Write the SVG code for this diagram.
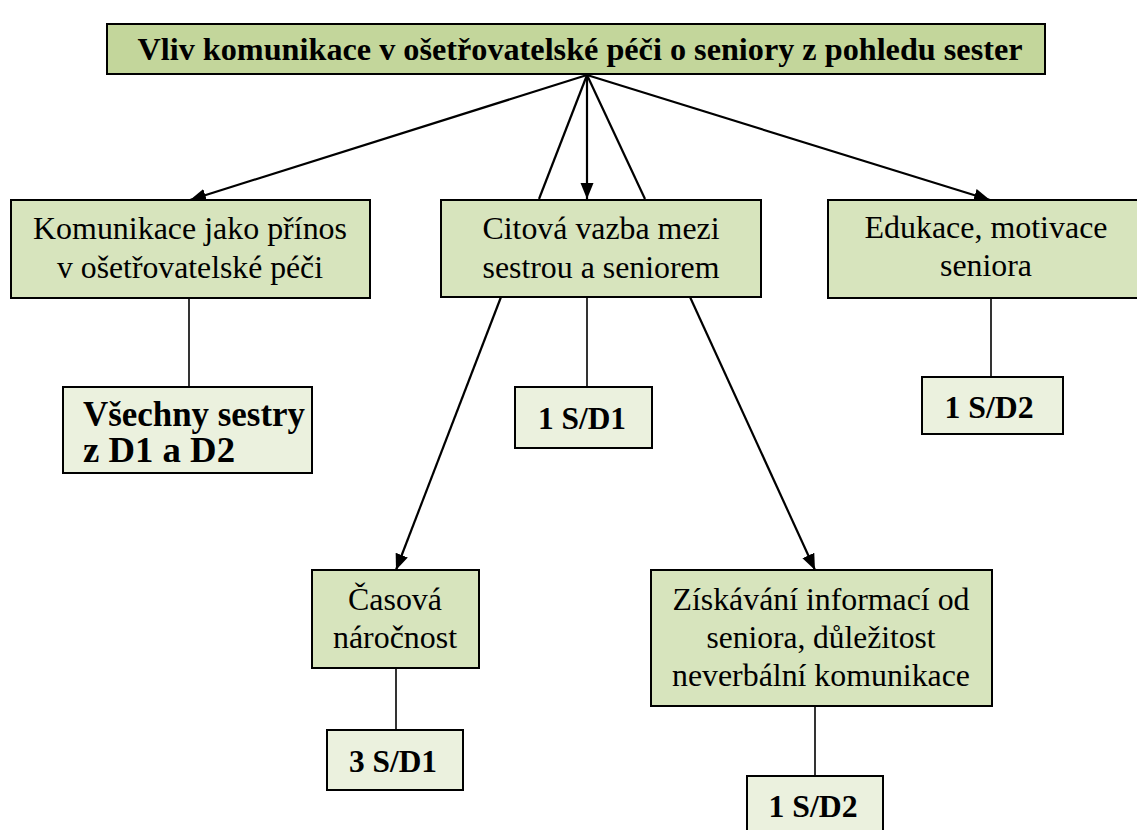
<svg xmlns="http://www.w3.org/2000/svg" width="1137" height="830" viewBox="0 0 1137 830">
<defs>
<marker id="arr" markerUnits="userSpaceOnUse" markerWidth="16" markerHeight="16" viewBox="0 0 16 16" refX="16" refY="8" orient="auto">
<path d="M0,1.5 L16,8 L0,14.5 Z" fill="#000"/>
</marker>
<style>
.top{fill:#c3d69b;stroke:#000;stroke-width:2}
.mid{fill:#d7e4bd;stroke:#000;stroke-width:2}
.leaf{fill:#ebf1de;stroke:#000;stroke-width:2}
.t{font-family:"Liberation Serif","Times New Roman",Tinos,Times,serif;font-size:32px;fill:#000;text-anchor:middle}
.b{font-family:"Liberation Serif","Times New Roman",Tinos,Times,serif;font-size:31px;font-weight:bold;fill:#000;text-anchor:middle}
.ar{stroke:#000;stroke-width:2.2;fill:none;marker-end:url(#arr)}
.ln{stroke:#000;stroke-width:2.2;fill:none}
.cn{stroke:#000;stroke-width:1.6;fill:none}
</style>
</defs>
<rect width="1137" height="830" fill="#fff"/>
<g id="connectors">
<line class="ar" x1="587" y1="75" x2="190" y2="200"/>
<line class="ar" x1="587" y1="75" x2="587" y2="199"/>
<line class="ar" x1="587" y1="75" x2="990" y2="200"/>
<line class="ln" x1="587" y1="75" x2="539" y2="199"/>
<line class="ln" x1="587" y1="75" x2="645" y2="199"/>
<line class="ar" x1="501" y1="297" x2="396" y2="570"/>
<line class="ar" x1="690" y1="297" x2="815" y2="570"/>
<line class="cn" x1="189" y1="298" x2="189" y2="387"/>
<line class="cn" x1="587" y1="297" x2="587" y2="387"/>
<line class="cn" x1="991" y1="298" x2="991" y2="377"/>
<line class="cn" x1="396" y1="668" x2="396" y2="730"/>
<line class="cn" x1="815" y1="706" x2="815" y2="776"/>
</g>
<g id="root">
<rect class="top" x="107" y="24" width="938" height="50"/>
<text class="b" x="580" y="60" style="font-size:32px" textLength="885" lengthAdjust="spacingAndGlyphs">Vliv komunikace v ošetřovatelské péči o seniory z pohledu sester</text>
</g>
<g id="n-prinos">
<rect class="mid" x="11" y="200" width="359" height="98"/>
<text class="t" x="190" y="239" textLength="314" lengthAdjust="spacingAndGlyphs">Komunikace jako přínos</text>
<text class="t" x="190" y="278" textLength="266" lengthAdjust="spacingAndGlyphs">v ošetřovatelské péči</text>
</g>
<g id="n-vazba">
<rect class="mid" x="441" y="200" width="320" height="97"/>
<text class="t" x="601" y="239" textLength="237" lengthAdjust="spacingAndGlyphs">Citová vazba mezi</text>
<text class="t" x="601" y="278" textLength="237" lengthAdjust="spacingAndGlyphs">sestrou a seniorem</text>
</g>
<g id="n-edukace">
<rect class="mid" x="828" y="200" width="316" height="98"/>
<text class="t" x="986" y="238" textLength="243" lengthAdjust="spacingAndGlyphs">Edukace, motivace</text>
<text class="t" x="986" y="276" textLength="92" lengthAdjust="spacingAndGlyphs">seniora</text>
</g>
<g id="n-vsechny">
<rect class="leaf" x="63" y="387" width="249" height="86"/>
<text class="b" x="83" y="426" style="text-anchor:start;font-size:35px" textLength="222" lengthAdjust="spacingAndGlyphs">Všechny sestry</text>
<text class="b" x="83" y="462" style="text-anchor:start;font-size:35px" textLength="152" lengthAdjust="spacingAndGlyphs">z D1 a D2</text>
</g>
<g id="n-s1d1">
<rect class="leaf" x="515" y="387" width="137" height="61"/>
<text class="b" x="582" y="429" textLength="88" lengthAdjust="spacingAndGlyphs">1 S/D1</text>
</g>
<g id="n-s1d2a">
<rect class="leaf" x="922" y="377" width="141" height="57"/>
<text class="b" x="989" y="418" textLength="89" lengthAdjust="spacingAndGlyphs">1 S/D2</text>
</g>
<g id="n-casova">
<rect class="mid" x="312" y="570" width="167" height="98"/>
<text class="t" x="395" y="610" textLength="94" lengthAdjust="spacingAndGlyphs">Časová</text>
<text class="t" x="395" y="648" textLength="124" lengthAdjust="spacingAndGlyphs">náročnost</text>
</g>
<g id="n-s3d1">
<rect class="leaf" x="327" y="730" width="136" height="60"/>
<text class="b" x="393" y="772" textLength="88" lengthAdjust="spacingAndGlyphs">3 S/D1</text>
</g>
<g id="n-ziskavani">
<rect class="mid" x="651" y="570" width="341" height="136"/>
<text class="t" x="821" y="610" textLength="297" lengthAdjust="spacingAndGlyphs">Získávání informací od</text>
<text class="t" x="821" y="648" textLength="229" lengthAdjust="spacingAndGlyphs">seniora, důležitost</text>
<text class="t" x="821" y="686" textLength="298" lengthAdjust="spacingAndGlyphs">neverbální komunikace</text>
</g>
<g id="n-s1d2b">
<rect class="leaf" x="747" y="776" width="136" height="60"/>
<text class="b" x="813" y="817" textLength="89" lengthAdjust="spacingAndGlyphs">1 S/D2</text>
</g>
</svg>
